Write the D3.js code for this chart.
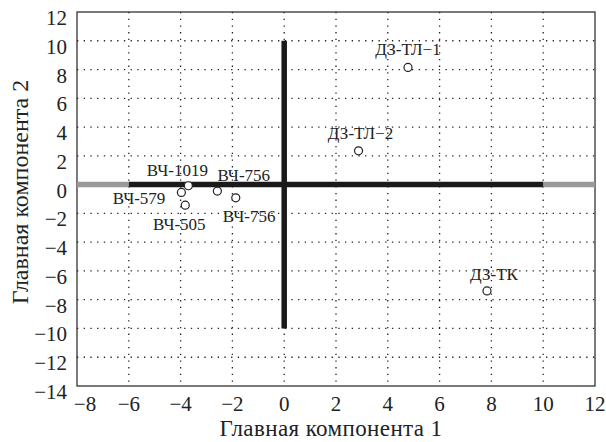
<!DOCTYPE html>
<html>
<head>
<meta charset="utf-8">
<script src="https://d3js.org/d3.v7.min.js"></script>
<style>
  body { margin: 0; background: #fff; }
  text { font-family: "Liberation Serif", "DejaVu Serif", serif; fill: #222; }
</style>
</head>
<body>
<div id="vis"></div>
<script>
  // samples on the plane of the first two principal components
  var names = ['ДЗ-ТЛ−1', 'ДЗ-ТЛ−2', 'ДЗ-ТК', 'ВЧ-1019', 'ВЧ-579', 'ВЧ-505', 'ВЧ-756', 'ВЧ-756']
  var pc1 = [4.78, 2.87, 7.83, -3.70, -3.97, -3.82, -2.58, -1.87]
  var pc2 = [8.15, 2.35, -7.39, -0.08, -0.54, -1.43, -0.45, -0.92]

  var xTicks = [-8, -6, -4, -2, 0, 2, 4, 6, 8, 10, 12]
  var yTicks = [-14, -12, -10, -8, -6, -4, -2, 0, 2, 4, 6, 8, 10, 12]

  // where each label sits relative to its point (anchor, dx, dy)
  var labelPos = [
    ['middle', 0, -12], ['middle', 2, -12], ['middle', 7, -11],
    ['middle', -11, -10], ['end', -16, 12], ['middle', -6, 25],
    ['start', 0, -10], ['start', -13, 24]
  ]

  var width = 606, height = 442
  var margin = {top: 12, right: 11, bottom: 56, left: 77}

  var svg = d3.select('#vis')
    .append('svg')
    .attr('width', width)
    .attr('height', height)

  var x = d3.scaleLinear().domain([-8, 12]).range([margin.left, width - margin.right])
  var y = d3.scaleLinear().domain([-14, 12]).range([height - margin.bottom, margin.top])

  // dotted grid
  svg.selectAll('.vgrid')
    .data(xTicks.slice(1, -1))
    .enter()
    .append('line')
    .attr('x1', function(d) { return x(d) })
    .attr('x2', function(d) { return x(d) })
    .attr('y1', y(12))
    .attr('y2', y(-14))
    .attr('stroke', '#222')
    .attr('stroke-width', 1.3)
    .attr('stroke-dasharray', '1.3,5.4')

  svg.selectAll('.hgrid')
    .data(yTicks.slice(1, -1))
    .enter()
    .append('line')
    .attr('y1', function(d) { return y(d) })
    .attr('y2', function(d) { return y(d) })
    .attr('x1', x(-8))
    .attr('x2', x(12))
    .attr('stroke', '#222')
    .attr('stroke-width', 1.3)
    .attr('stroke-dasharray', '1.3,5.4')

  // frame
  svg.append('rect')
    .attr('x', x(-8))
    .attr('y', y(12))
    .attr('width', x(12) - x(-8))
    .attr('height', y(-14) - y(12))
    .attr('fill', 'none')
    .attr('stroke', '#222')
    .attr('stroke-width', 1.2)

  // thick axes through the origin
  svg.append('line')
    .attr('x1', x(-8)).attr('x2', x(-6)).attr('y1', y(0)).attr('y2', y(0))
    .attr('stroke', '#999').attr('stroke-width', 5.5)
  svg.append('line')
    .attr('x1', x(10)).attr('x2', x(12)).attr('y1', y(0)).attr('y2', y(0))
    .attr('stroke', '#999').attr('stroke-width', 5.5)
  svg.append('line')
    .attr('x1', x(-6)).attr('x2', x(10)).attr('y1', y(0)).attr('y2', y(0))
    .attr('stroke', '#1a1a1a').attr('stroke-width', 5.5)
  svg.append('line')
    .attr('x1', x(0)).attr('x2', x(0)).attr('y1', y(10)).attr('y2', y(-10))
    .attr('stroke', '#1a1a1a').attr('stroke-width', 5.5)

  // tick labels
  function fmt(v) { return v < 0 ? '\u2212' + Math.abs(v) : String(v) }

  svg.selectAll('.xlab')
    .data(xTicks)
    .enter()
    .append('text')
    .attr('x', function(d) { return x(d) + (d == -8 ? 8 : 0) })
    .attr('y', 411)
    .attr('text-anchor', 'middle')
    .style('font-size', '21px')
    .text(fmt)

  svg.selectAll('.ylab')
    .data(yTicks)
    .enter()
    .append('text')
    .attr('x', 67)
    .attr('y', function(d) { return y(d) + 13 })
    .attr('text-anchor', 'end')
    .style('font-size', '21px')
    .text(fmt)

  // axis titles
  svg.append('text')
    .attr('x', 331)
    .attr('y', 436)
    .attr('text-anchor', 'middle')
    .style('font-size', '23px')
    .style('letter-spacing', '0.4px')
    .text('Главная компонента 1')

  svg.append('text')
    .attr('transform', 'translate(28,192)rotate(-90)')
    .attr('text-anchor', 'middle')
    .style('font-size', '24px')
    .text('Главная компонента 2')

  // points
  svg.selectAll('circle')
    .data(names)
    .enter()
    .append('circle')
    .attr('cx', function(d, i) { return x(pc1[i]) })
    .attr('cy', function(d, i) { return y(pc2[i]) })
    .attr('r', 4)
    .attr('fill', '#fff')
    .attr('stroke', '#222')
    .attr('stroke-width', 1.2)

  svg.selectAll('.plab')
    .data(names)
    .enter()
    .append('text')
    .attr('x', function(d, i) { return x(pc1[i]) + labelPos[i][1] })
    .attr('y', function(d, i) { return y(pc2[i]) + labelPos[i][2] })
    .attr('text-anchor', function(d, i) { return labelPos[i][0] })
    .style('font-size', '17px')
    .text(function(d) { return d })
</script>
</body>
</html>
